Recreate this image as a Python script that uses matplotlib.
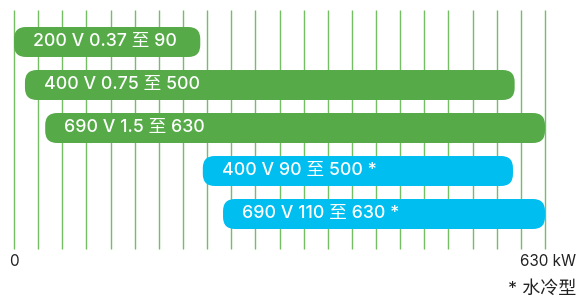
import numpy as np
import matplotlib
matplotlib.use('Agg')
import matplotlib.pyplot as plt
from matplotlib.patches import FancyBboxPatch

#%% data (bar extents)
labels = ['200 V 0.37 至 90', '400 V 0.75 至 500', '690 V 1.5 至 630',
          '400 V 90 至 500 *', '690 V 110 至 630 *']
bar_start = [0, 13, 37, 224, 248]
bar_end = [221, 594, 630, 592, 630]
bar_kind = ['air', 'air', 'air', 'water', 'water']
grid_kw = np.linspace(0, 630, 23)
axis_labels = ['0', '630 kW']
note = '* 水冷型'

colors = {'air': '#56ab48', 'water': '#00bef0'}
font = ['Inter', 'Noto Sans CJK SC', 'DejaVu Sans']

#%% figure
W, H = 579, 302
fig = plt.figure(figsize=(W / 100, H / 100), dpi=100)
ax = fig.add_axes([0, 0, 1, 1])
px_x = 630 / 531.0      # kW per pixel
row_px = 43.0
x0 = -14 * px_x
ax.set_xlim(x0, x0 + W * px_x)
y_top = -42 / row_px
ax.set_ylim(y_top + H / row_px, y_top)
ax.axis('off')

# grid
ax.vlines(grid_kw, (10 - 42) / row_px, (249 - 42) / row_px,
          color='#74be64', lw=1.0, zorder=1)

bar_h = 30 / row_px
r_px = 12
for i, (s, e, k, lab) in enumerate(zip(bar_start, bar_end, bar_kind, labels)):
    p = FancyBboxPatch((s, i - bar_h / 2), e - s, bar_h,
                       boxstyle='round,pad=0,rounding_size=%f' % (r_px * px_x),
                       mutation_aspect=(1 / row_px) / px_x,
                       fc=colors[k], ec='none', zorder=2)
    ax.add_patch(p)
    ax.text(s + 19 * px_x, i - 0.01, lab, color='white', fontsize=12.8,
            family=font, weight='medium', va='center', ha='left', zorder=3)

ax.text(0, (262 - 42) / row_px, axis_labels[0], ha='center', va='center',
        fontsize=11, color='#222222', family=font)
ax.text(630 + 31 * px_x, (262 - 42) / row_px, axis_labels[1], ha='right', va='center',
        fontsize=11, color='#222222', family=font)
ax.text(630 + 31 * px_x, (289 - 42) / row_px, note, ha='right', va='center',
        fontsize=13, color='#222222', family=font)

fig.savefig('out.png', dpi=100)
plt.close()
